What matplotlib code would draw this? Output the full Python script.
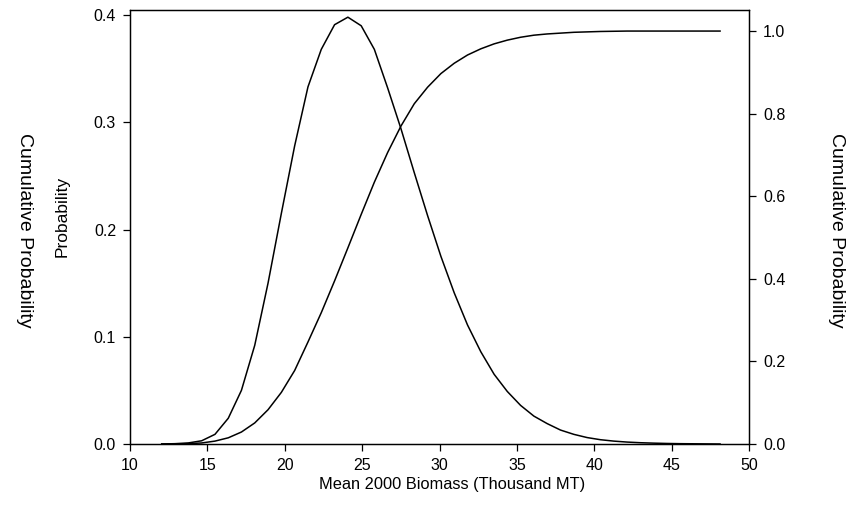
import matplotlib.pyplot as plt

# === Data ===

biomass = [12.05, 12.91, 13.77, 14.63, 15.49, 16.35, 17.20, 18.06, 18.92, 19.78,
           20.64, 21.50, 22.36, 23.22, 24.08, 24.94, 25.79, 26.65, 27.51, 28.37,
           29.23, 30.09, 30.95, 31.81, 32.67, 33.53, 34.38, 35.24, 36.10, 36.96,
           37.82, 38.68, 39.54, 40.40, 41.26, 42.12, 42.97, 43.83, 44.69, 45.55,
           46.41, 47.27, 48.13]

probability = [0.0, 0.0003, 0.001, 0.003, 0.009, 0.024, 0.050, 0.092, 0.150, 0.215,
               0.278, 0.333, 0.368, 0.391, 0.398, 0.390, 0.368, 0.332, 0.294, 0.253,
               0.213, 0.175, 0.141, 0.111, 0.086, 0.065, 0.049, 0.036, 0.026, 0.019,
               0.013, 0.009, 0.006, 0.004, 0.0027, 0.0018, 0.0012, 0.0008, 0.0005, 0.0003,
               0.0002, 0.0001, 0.0]

cumulative = [0.0, 0.0002, 0.0008, 0.0025, 0.007, 0.015, 0.029, 0.051, 0.083, 0.125,
              0.178, 0.247, 0.318, 0.395, 0.475, 0.556, 0.634, 0.706, 0.770, 0.824,
              0.864, 0.897, 0.922, 0.942, 0.957, 0.969, 0.978, 0.985, 0.990, 0.993,
              0.995, 0.997, 0.998, 0.999, 0.9995, 1.0, 1.0, 1.0, 1.0, 1.0,
              1.0, 1.0, 1.0]

x_ticks = [10, 15, 20, 25, 30, 35, 40, 45, 50]
left_ticks = [0.0, 0.1, 0.2, 0.3, 0.4]
right_ticks = [0.0, 0.2, 0.4, 0.6, 0.8, 1.0]

plt.rcParams['font.family'] = ['Liberation Sans', 'DejaVu Sans']


def style_axis(ax):
    ax.tick_params(direction='out', length=5, width=0.9, labelsize=11.5,
                   pad=5, color='black')
    for spine in ax.spines.values():
        spine.set_linewidth(0.9)


def main():
    fig = plt.figure(figsize=(8.59, 5.19), dpi=100)
    ax = fig.add_axes([130 / 859, 1 - 444 / 519, (749 - 130) / 859, (444 - 10) / 519])

    # probability curve on the left axis
    ax.plot(biomass, probability, color='black', linewidth=1.1)
    ax.set_xlim(10, 50)
    ax.set_ylim(0, 0.4047)
    ax.set_xticks(x_ticks)
    ax.set_yticks(left_ticks)
    ax.set_yticklabels([f'{t:.1f}' for t in left_ticks])
    style_axis(ax)

    # cumulative curve on the right axis
    ax2 = ax.twinx()
    ax2.plot(biomass, cumulative, color='black', linewidth=1.1)
    ax2.set_ylim(0, 1.051)
    ax2.set_yticks(right_ticks)
    ax2.set_yticklabels([f'{t:.1f}' for t in right_ticks])
    style_axis(ax2)

    # axis titles placed like the original
    fig.text(452 / 859, 1 - 484 / 519, 'Mean 2000 Biomass (Thousand MT)',
             ha='center', va='center', fontsize=11.8)
    fig.text(62 / 859, 1 - 216 / 519, 'Probability', rotation=90,
             ha='center', va='center', fontsize=12.5)
    fig.text(24 / 859, 1 - 230 / 519, 'Cumulative Probability', rotation=-90,
             ha='center', va='center', fontsize=14)
    fig.text(837 / 859, 1 - 230 / 519, 'Cumulative Probability', rotation=-90,
             ha='center', va='center', fontsize=14)

    fig.savefig('out.png', dpi=100)


if __name__ == "__main__":
    main()
